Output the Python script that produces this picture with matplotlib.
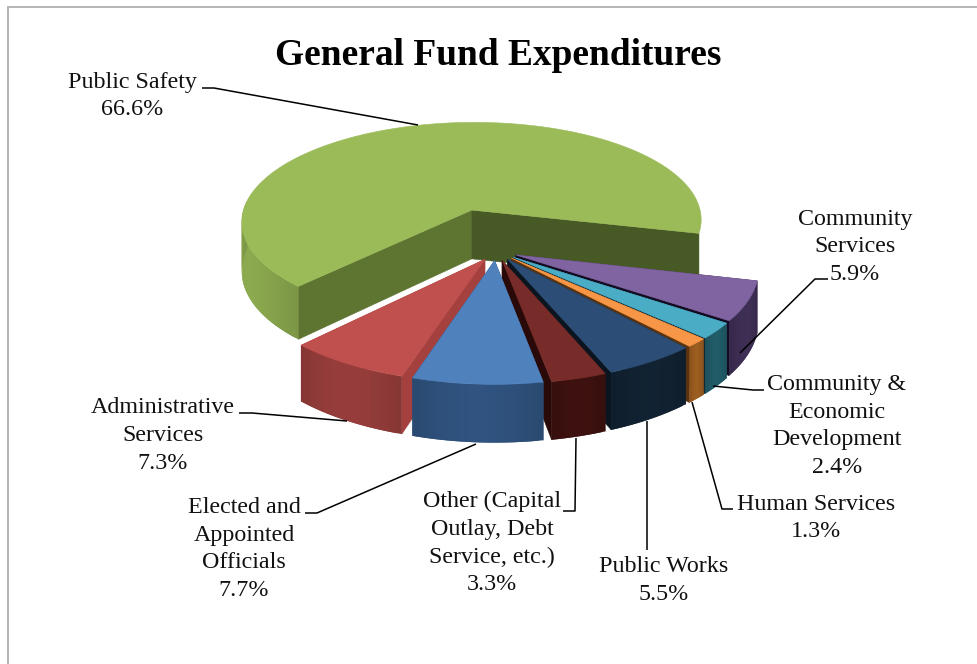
import numpy as np
import matplotlib
matplotlib.use("Agg")
import matplotlib.pyplot as plt
from matplotlib.patches import Polygon

# ---------- data ----------
categories = ["Community\nServices", "Community &\nEconomic\nDevelopment", "Human Services",
              "Public Works", "Other (Capital\nOutlay, Debt\nService, etc.)",
              "Elected and\nAppointed\nOfficials", "Administrative\nServices", "Public Safety"]
values = [5.9, 2.4, 1.3, 5.5, 3.3, 7.7, 7.3, 66.6]

# ---------- styles ----------
top_colors = ["#8064A2", "#4BACC6", "#F79646", "#2C4D75", "#772C2A", "#4F81BD", "#C0504D", "#9BBB59"]
rim_colors = ["#3B2C50", "#1F5763", "#94581F", "#10202F", "#3A100E", "#2D4F78", "#8E3A38", "#84A04A"]
cut_start_colors = ["#3B2C50", "#1F5763", "#8A5220", "#10202F", "#3A100E", "#2D4F78", "#A4413F", "#5E7431"]
cut_end_colors = ["#130C22", "#0F2A33", "#5A3410", "#0A1520", "#2A0A08", "#2D4F78", "#A4413F", "#475A25"]
explode = [0.09, 0.09, 0.09, 0.09, 0.09, 0.09, 0.09, 0.417]
radius = [1, 1, 1, 1, 1, 1, 1, 0.995]
x_nudge = [0, 0, 0, 0, 0, 0, 0, 0.012]
draw_order = [7, 0, 1, 2, 3, 4, 6, 5]
start_angle = -13.5
CX, CY, A, B, K, D = 496, 251, 240, 107, 0.115, 51

label_centers = [(855, [225, 252, 280]), (837, [390, 418, 445, 473]), (816, [510, 537]),
                 (664, [572, 600]), (492, [507, 535, 563, 590]), (244, [513, 541, 568, 596]),
                 (163, [413, 441, 469]), (132, [88, 115])]
leaders = [[(828, 279), (815, 279), (740, 353)],
           [(764, 390), (753, 390), (713, 386)],
           [(733, 509), (722, 509), (692, 402)],
           [(647, 550), (647, 421)],
           [(563, 511), (575, 511), (576, 438)],
           [(305, 513), (317, 513), (476, 444)],
           [(239, 413), (252, 413), (347, 421)],
           [(202, 88), (214, 88), (418, 125)]]

plt.rcParams["font.family"] = ["Liberation Serif", "DejaVu Serif"]
fig = plt.figure(figsize=(9.77, 6.64), dpi=100)
ax = fig.add_axes([0, 0, 1, 1])
ax.set_xlim(0, 977)
ax.set_ylim(664, 0)
ax.axis("off")


def project(x, y, z=0.0):
    x, y = np.asarray(x, float), np.asarray(y, float)
    w = 1 + K * y
    return np.column_stack([CX + A * x / w, CY - B * y / w + z * D / w])


def shade(color, f):
    rgb = np.array(matplotlib.colors.to_rgb(color))
    return tuple(np.clip(rgb * f, 0, 1))


ends = start_angle - np.cumsum(values) / sum(values) * 360
starts = np.r_[start_angle, ends[:-1]]
zo = 2
for i in draw_order:
    a0, a1 = np.radians(starts[i]), np.radians(ends[i])
    mid = (a0 + a1) / 2
    ox = explode[i] * np.cos(mid) + x_nudge[i]
    oy = explode[i] * np.sin(mid)
    r = radius[i]
    th = np.linspace(a0, a1, max(16, int(abs(a1 - a0) * 60)))
    ax_, ay_ = ox + r * np.cos(th), oy + r * np.sin(th)

    # cut faces
    for ang, col in ((a0, cut_start_colors[i]), (a1, cut_end_colors[i])):
        fx = np.array([ox, ox + r * np.cos(ang)])
        fy = np.array([oy, oy + r * np.sin(ang)])
        quad = np.vstack([project(fx, fy, 0), project(fx[::-1], fy[::-1], 1)])
        ax.add_patch(Polygon(quad, closed=True, fc=col, ec=col, lw=0.4, zorder=zo))
        zo += 1

    # rim: only the part that faces the viewer, shaded with overlapping strips
    vis = np.where(np.sin(th) < 0.1)[0] if i != 7 else np.where((np.sin(th) < 0.1) & (np.cos(th) < 0))[0]
    n = len(vis)
    for k, j in enumerate(vis[:-1]):
        jj = vis[min(k + 2, n - 1)]
        sx, sy = ax_[j:jj + 1], ay_[j:jj + 1]
        quad = np.vstack([project(sx, sy, 0), project(sx[::-1], sy[::-1], 1)])
        f = 0.94 + 0.12 * np.sin(np.pi * k / max(n - 2, 1))
        ax.add_patch(Polygon(quad, closed=True, fc=shade(rim_colors[i], f), ec="none", zorder=zo))
        zo += 0.001
    zo = np.ceil(zo) + 1

    # top
    tx = np.r_[ox, ax_]
    ty = np.r_[oy, ay_]
    ax.add_patch(Polygon(project(tx, ty, 0), closed=True, fc=top_colors[i],
                         ec=top_colors[i], lw=0.4, zorder=zo))
    zo += 1

# leaders
for pts in leaders:
    p = np.array(pts)
    ax.plot(p[:, 0], p[:, 1], color="black", lw=1.1, zorder=zo, solid_capstyle="butt")

# labels
for cat, val, (cx, ys) in zip(categories, values, label_centers):
    lines = cat.split("\n") + [f"{val:.1f}%"]
    for line, y in zip(lines, ys):
        ax.text(cx, y, line, ha="center", va="baseline", fontsize=17.3, color="#111111", zorder=zo)

ax.text(498, 65, "General Fund Expenditures", ha="center", va="baseline",
        fontsize=26.9, fontweight="bold", color="black")

# only the top and left frame lines are inside the picture
ax.plot([8, 8, 977], [664, 6.5, 6.5], color="#B4B4B4", lw=1.4, zorder=zo, solid_joinstyle="miter")
fig.savefig("out.png", dpi=100)
